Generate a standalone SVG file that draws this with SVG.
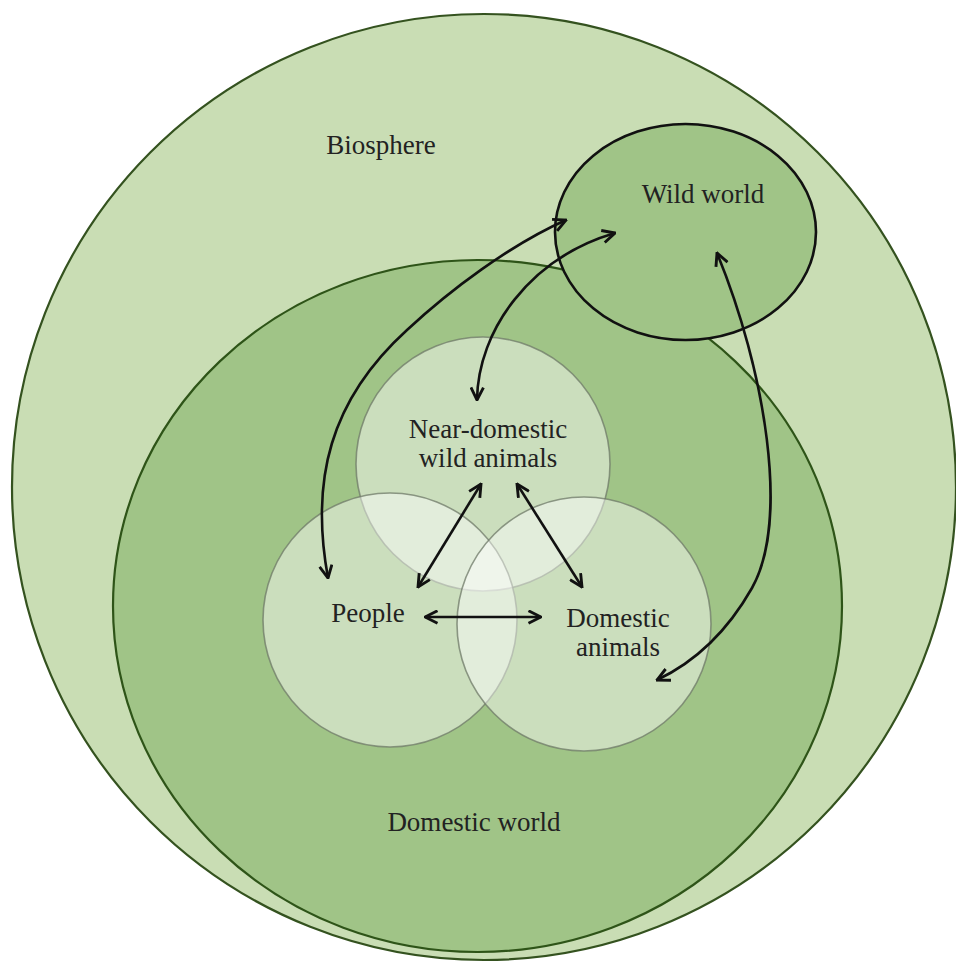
<svg xmlns="http://www.w3.org/2000/svg" width="956" height="962" viewBox="0 0 956 962">
  <defs>
    <style>
      .label { font-family: "Liberation Serif", "Times New Roman", serif; font-size: 27px; fill: #222; text-anchor: middle; }
      .realm { stroke-width: 2.2; }
      .group { fill: #ffffff; fill-opacity: 0.45; stroke: #6f7a68; stroke-opacity: 0.75; stroke-width: 1.6; }
      .link { fill: none; stroke: #111; stroke-width: 2.6; marker-start: url(#tip); marker-end: url(#tip); }
    </style>
    <marker id="tip" viewBox="0 0 12 12" refX="11" refY="6" markerUnits="userSpaceOnUse" markerWidth="15" markerHeight="15" orient="auto-start-reverse">
      <path d="M1,1 L11,6 L1,11" fill="none" stroke="#111" stroke-width="2.3" stroke-linejoin="miter"/>
    </marker>
  </defs>

  <rect width="956" height="962" fill="#ffffff"/>

  <g id="biosphere">
    <ellipse class="realm" cx="484" cy="487" rx="472" ry="473" fill="#c9ddb4" stroke="#34521f"/>
    <text class="label" x="381" y="154">Biosphere</text>
  </g>

  <g id="domestic-world">
    <ellipse class="realm" cx="477.5" cy="606" rx="364.5" ry="346" fill="#a0c487" stroke="#2e5418"/>
    <text class="label" x="474" y="831">Domestic world</text>
  </g>

  <g id="wild-world">
    <ellipse cx="685.5" cy="232" rx="130.5" ry="108" fill="#a0c487" stroke="#111" stroke-width="2.6"/>
    <text class="label" x="703" y="203">Wild world</text>
  </g>

  <g id="near-domestic">
    <circle class="group" cx="483" cy="464" r="127"/>
    <text class="label" x="488" y="438">Near-domestic</text>
    <text class="label" x="488" y="467">wild animals</text>
  </g>

  <g id="people">
    <circle class="group" cx="390" cy="620" r="127"/>
    <text class="label" x="368" y="622">People</text>
  </g>

  <g id="domestic-animals">
    <circle class="group" cx="584" cy="624" r="127"/>
    <text class="label" x="618" y="627">Domestic</text>
    <text class="label" x="618" y="656">animals</text>
  </g>

  <g id="connectors">
    <!-- people <-> wild world -->
    <path class="link" d="M328 578 C310 480, 330 400, 407 330 C450 290, 510 245, 566 220"/>
    <!-- near-domestic <-> wild world -->
    <path class="link" d="M477 400 C478 330, 530 258, 615 233"/>
    <!-- wild world <-> domestic animals -->
    <path class="link" d="M717 253 C765 370, 790 520, 752 588 C727 632, 695 662, 657 680"/>
    <!-- near-domestic <-> people -->
    <path class="link" d="M481 484 L418 587"/>
    <!-- near-domestic <-> domestic animals -->
    <path class="link" d="M517 484 L582 587"/>
    <!-- people <-> domestic animals -->
    <path class="link" d="M425 617 L541 617"/>
  </g>
</svg>
